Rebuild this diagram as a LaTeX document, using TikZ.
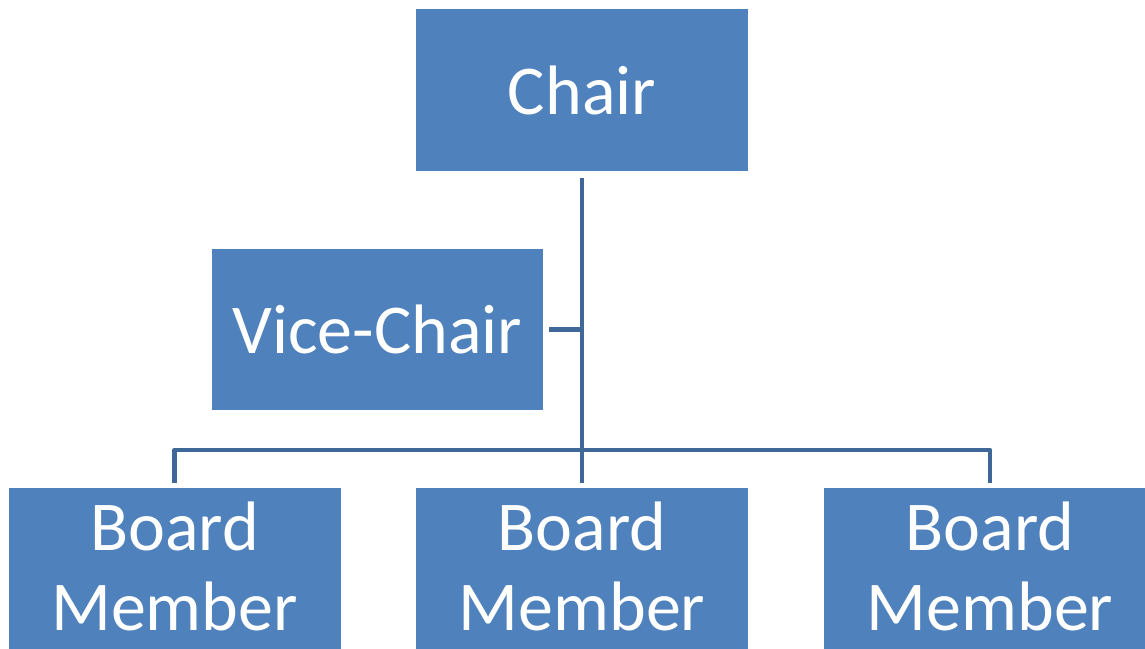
\documentclass[tikz,border=0pt]{standalone}
\usepackage{fontspec}
\setmainfont{Carlito}
\definecolor{boxblue}{HTML}{4F81BD}
\definecolor{linblue}{HTML}{3F6797}
\newcommand{\lowpad}{\rule[-6pt]{0pt}{6pt}}
\begin{document}
\begin{tikzpicture}[x=1pt,y=1pt,
  orgbox/.style={fill=boxblue, draw=none, text=white, minimum width=332pt, minimum height=162pt, inner sep=0pt, align=center, font=\fontsize{70}{80}\selectfont},
  conn/.style={draw=linblue, line width=4.6pt, line join=round}]
\useasboundingbox (0,0) rectangle (1145,-648);
\begin{scope}
\clip (0,0) rectangle (1145,-648);
\node[orgbox] (chair) at (582,-90) {Chair};
\node[orgbox, minimum width=331pt, minimum height=161pt] (vice) at (377.5,-329.5) {Vice-Chair};
\node[orgbox] (b1) at (174.5,-569) {Board\\Member\lowpad};
\node[orgbox] (b2) at (582,-569) {Board\\Member\lowpad};
\node[orgbox] (b3) at (990,-569) {Board\\Member\lowpad};
\coordinate (j) at (582,-450);
\draw[conn, shorten <=7pt] (chair.south) -- (j);
\draw[conn, shorten <=6pt] (vice.east) -- (vice.east -| j);
\draw[conn, shorten <=5pt, shorten >=5pt] (b1.north) |- (j) -| (b3.north);
\draw[conn, shorten >=5pt] (j) -- (b2.north);
\end{scope}
\end{tikzpicture}
\end{document}
